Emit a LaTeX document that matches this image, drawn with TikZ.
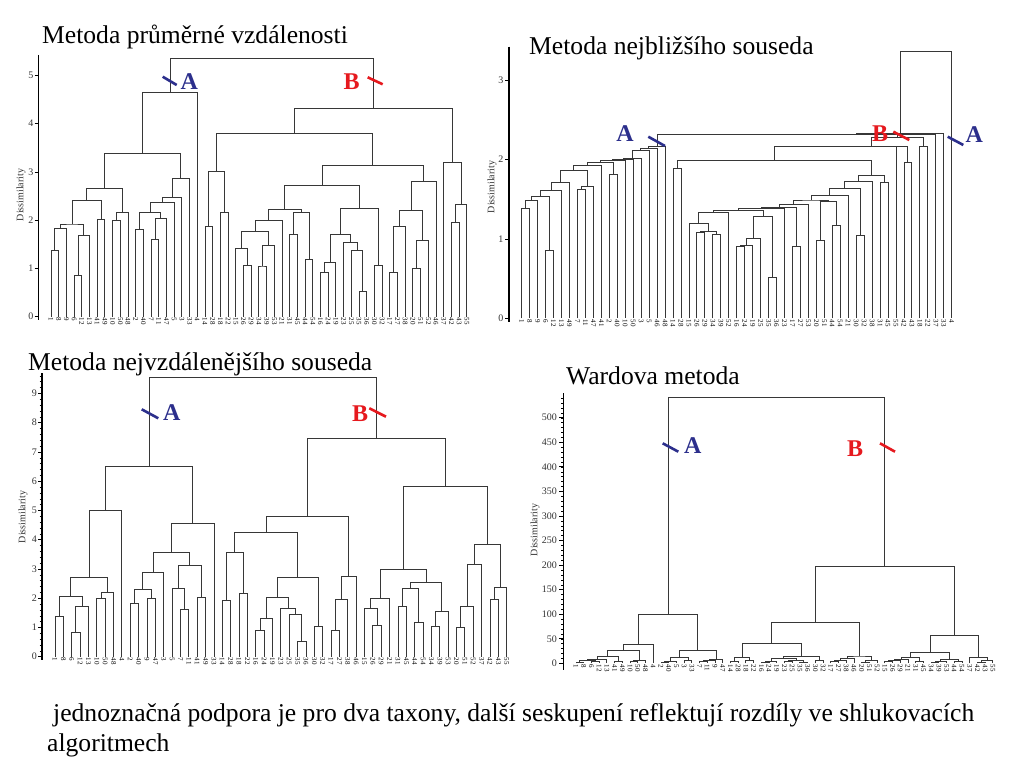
\documentclass[tikz,border=0pt]{standalone}
\usepackage{fontspec}
\setmainfont{Liberation Serif}
\usetikzlibrary{calc}
\definecolor{colA}{RGB}{44,47,140}
\definecolor{colB}{RGB}{230,25,30}
\definecolor{dcol}{RGB}{55,55,55}
\newcommand\mg[4]{\path ($(#2)!0.5!(#3)$) coordinate (mgtmp); \draw[dl] (#2) |- (mgtmp |- 0,#4) coordinate (#1) -| (#3);}
\tikzset{
  dl/.style={draw=dcol, line width=0.85pt},
  leaf/.style={rotate=-90, anchor=west, inner sep=1pt, font=\fontsize{7}{7}\selectfont},
  axisline/.style={draw=black, line width=1.6pt},
  tk/.style={draw=black, line width=0.7pt},
  tl/.style={anchor=east, inner sep=0.5pt, font=\fontsize{10}{10}\selectfont, text=black!80},
  ylab/.style={rotate=90, font=\fontsize{10}{10}\selectfont, text=black!80},
  title/.style={anchor=base west, inner sep=0pt, font=\fontsize{25.6}{30}\selectfont},
  mkA/.style={draw=colA, line width=2.6pt},
  mkB/.style={draw=colB, line width=2.6pt},
  labA/.style={text=colA, font=\fontsize{24}{24}\selectfont\bfseries, inner sep=0pt},
  labB/.style={text=colB, font=\fontsize{24}{24}\selectfont\bfseries, inner sep=0pt},
}
\begin{document}
\begin{tikzpicture}[x=1pt, y=-1pt]
\useasboundingbox (0,0) rectangle (1024,768);
\fill[white] (0,0) rectangle (1024,768);

% ---------------- titles
\node[title] (t1) at (42,44) {Metoda průměrné vzdálenosti};
\node[title] (t2) at (529,55) {Metoda nejbližšího souseda};
\node[title] (t3) at (28,370) {Metoda nejvzdálenějšího souseda};
\node[title] (t4) at (566,384) {Wardova metoda};
\node[title] (t5) at (53,721) {jednoznačná podpora je pro dva taxony, další seskupení reflektují rozdíly ve shlukovacích};
\node[title] (t6) at (47,751) {algoritmech};

% ---------------- axes
% D1
\draw[axisline] (38.3,55) -- (38.3,320);
\foreach \k in {0,...,5}{\draw[tk] (34.5,{316.7-48.28*\k}) -- (38.3,{316.7-48.28*\k}); \node[tl] (ta\k) at (34,{316.7-48.28*\k}) {\k};}
\node[ylab] (ya) at (21,195) {Dissimilarity};
% D2
\draw[axisline] (509,46.7) -- (509,321.7);
\foreach \k in {0,...,3}{\draw[tk] (505,{318.3-79.4*\k}) -- (509,{318.3-79.4*\k}); \node[tl] (tb\k) at (504,{318.3-79.4*\k}) {\k};}
\node[ylab] (yb) at (492,187) {Dissimilarity};
% D3
\draw[axisline] (41.7,373) -- (41.7,660);
\foreach \k in {0,...,9}{\draw[tk] (38,{656.7-29.26*\k}) -- (41.7,{656.7-29.26*\k}); \node[tl] (tc\k) at (37.5,{656.7-29.26*\k}) {\k};}
\foreach \k in {1,...,48}{\draw[tk, line width=0.4pt] (39.7,{656.7-29.26*\k/5}) -- (41.7,{656.7-29.26*\k/5});}
\node[ylab] (yc) at (23,517) {Dissimilarity};
% D4
\draw[axisline] (563.3,393.3) -- (563.3,670);
\foreach \k in {0,50,...,500}{\draw[tk] (559,{663.3-0.4912*\k}) -- (563.3,{663.3-0.4912*\k}); \node[tl] (td\k) at (557.5,{663.3-0.4912*\k}) {\k};}
\foreach \k in {10,20,...,540}{\draw[tk, line width=0.4pt] (561.3,{663.3-0.4912*\k}) -- (563.3,{663.3-0.4912*\k});}
\node[ylab] (yd) at (535,530) {Dissimilarity};

% ================= D1: average
\begin{scope}[shift={(51,316.7)}, x=7.7pt, y=48.28pt]
\foreach \lab [count=\i] in {1,8,9,6,12,13,41,49,10,50,48,2,40,7,11,47,5,3,33,4,14,28,18,22,15,26,29,34,39,53,21,31,45,44,54,16,24,19,23,25,35,36,30,32,17,27,38,20,51,52,46,37,42,43,55}{\coordinate (P\i) at ({\i-1},0); \node[leaf] (pl\i) at ({\i-1},0) {\lab};}
\mg{Pa}{P1}{P2}{1.38}
\mg{Pb}{Pa}{P3}{1.83}
\mg{Pc}{P4}{P5}{0.85}
\mg{Pd}{Pc}{P6}{1.68}
\mg{Pe}{Pb}{Pd}{1.92}
\mg{Pf}{P7}{P8}{2.02}
\mg{Pg}{Pe}{Pf}{2.40}
\mg{Ph}{P9}{P10}{1.99}
\mg{Pi}{Ph}{P11}{2.17}
\mg{Pj}{Pg}{Pi}{2.66}
\mg{Pk}{P12}{P13}{1.81}
\mg{Pl}{P14}{P15}{1.61}
\mg{Pm}{Pl}{P16}{2.03}
\mg{Pn}{Pk}{Pm}{2.17}
\mg{Po}{Pn}{P17}{2.37}
\mg{Pp}{Po}{P18}{2.47}
\mg{Pq}{Pp}{P19}{2.87}
\mg{Pr}{Pj}{Pq}{3.38}
\mg{Ps}{Pr}{P20}{4.64}
\mg{Qa}{P21}{P22}{1.88}
\mg{Qb}{P23}{P24}{2.15}
\mg{Qc}{Qa}{Qb}{3.00}
\mg{Qd}{P26}{P27}{1.06}
\mg{Qe}{P25}{Qd}{1.41}
\mg{Qf}{P28}{P29}{1.05}
\mg{Qg}{Qf}{P30}{1.47}
\mg{Qh}{Qe}{Qg}{1.76}
\mg{Qi}{Qh}{P31}{2.00}
\mg{Qj}{P32}{P33}{1.71}
\mg{Qk}{P34}{P35}{1.19}
\mg{Ql}{Qj}{Qk}{2.15}
\mg{Qm}{Qi}{Ql}{2.22}
\mg{Qn}{P36}{P37}{0.92}
\mg{Qo}{Qn}{P38}{1.13}
\mg{Qp}{P41}{P42}{0.53}
\mg{Qq}{P40}{Qp}{1.38}
\mg{Qr}{P39}{Qq}{1.53}
\mg{Qs}{Qo}{Qr}{1.71}
\mg{Qt}{P43}{P44}{1.07}
\mg{Qu}{Qs}{Qt}{2.24}
\mg{Qv}{Qm}{Qu}{2.71}
\mg{Qw}{P45}{P46}{0.91}
\mg{Qx}{Qw}{P47}{1.88}
\mg{Qy}{P48}{P49}{1.00}
\mg{Qz}{Qy}{P50}{1.58}
\mg{Ra}{Qx}{Qz}{2.20}
\mg{Rb}{Ra}{P51}{2.80}
\mg{Rc}{Qv}{Rb}{3.14}
\mg{Rd}{Qc}{Rc}{3.80}
\mg{Re}{P53}{P54}{1.96}
\mg{Rf}{Re}{P55}{2.32}
\mg{Rg}{P52}{Rf}{3.20}
\mg{Rh}{Rd}{Rg}{4.32}
\mg{Ri}{Ps}{Rh}{5.35}
\end{scope}

% ================= D2: nearest neighbour
\begin{scope}[shift={(521.7,318.3)}, x=7.963pt, y=79.4pt]
\foreach \lab [count=\i] in {1,8,9,6,12,13,49,7,11,47,41,2,40,10,50,3,5,46,48,14,28,15,26,29,34,39,52,16,24,19,25,35,36,23,17,27,53,20,51,44,54,21,30,32,38,31,45,55,42,43,18,22,37,33,4}{\coordinate (N\i) at ({\i-1},0); \node[leaf] (nl\i) at ({\i-1},0) {\lab};}
\mg{Na}{N1}{N2}{1.38}
\mg{Nb}{Na}{N3}{1.48}
\mg{Nc}{N4}{N5}{0.85}
\mg{Nd}{Nb}{Nc}{1.54}
\mg{Ne}{Nd}{N6}{1.61}
\mg{Nf}{Ne}{N7}{1.71}
\mg{Ng}{N8}{N9}{1.62}
\mg{Nh}{Ng}{N10}{1.66}
\mg{Ni}{Nf}{Nh}{1.86}
\mg{Nj}{Ni}{N11}{1.92}
\mg{Nk}{N12}{N13}{1.81}
\mg{Nl}{Nj}{Nk}{1.96}
\mg{Nm}{Nl}{N14}{1.99}
\mg{Nn}{Nm}{N15}{2.00}
\mg{No}{Nn}{N16}{2.01}
\mg{Np}{No}{N17}{2.11}
\mg{Nq}{Np}{N18}{2.14}
\mg{Nr}{Nq}{N19}{2.16}
\mg{Ma}{N20}{N21}{1.89}
\mg{Mb}{N23}{N24}{1.08}
\mg{Mc}{N25}{N26}{1.06}
\mg{Md}{Mb}{Mc}{1.09}
\mg{Me}{N22}{Md}{1.20}
\mg{Mf}{Me}{N27}{1.33}
\mg{Mg}{N28}{N29}{0.91}
\mg{Mh}{Mg}{N30}{0.92}
\mg{Mi}{Mh}{N31}{1.00}
\mg{Mj}{N32}{N33}{0.52}
\mg{Mk}{Mi}{Mj}{1.28}
\mg{Ml}{Mf}{Mk}{1.36}
\mg{Mm}{Ml}{N34}{1.38}
\mg{Mn}{N35}{N36}{0.90}
\mg{Mo}{Mm}{Mn}{1.40}
\mg{Mp}{Mo}{N37}{1.43}
\mg{Mq}{N38}{N39}{0.98}
\mg{Mr}{N40}{N41}{1.17}
\mg{Ms}{Mq}{Mr}{1.47}
\mg{Mt}{Mp}{Ms}{1.49}
\mg{Mu}{Mt}{N42}{1.55}
\mg{Mv}{N43}{N44}{1.05}
\mg{Mw}{Mu}{Mv}{1.64}
\mg{Mx}{Mw}{N45}{1.73}
\mg{My}{N46}{N47}{1.71}
\mg{Mz}{Mx}{My}{1.80}
\mg{La}{Ma}{Mz}{1.985}
\mg{Lb}{La}{N48}{2.16}
\mg{Lc}{N49}{N50}{1.96}
\mg{Ld}{Lb}{Lc}{2.17}
\mg{Le}{N51}{N52}{2.16}
\mg{Lf}{Ld}{Le}{2.28}
\mg{Lg}{Nr}{Lf}{2.31}
\mg{Lh}{Lg}{N53}{2.32}
\mg{Li}{Lh}{N54}{2.33}
\mg{Lj}{Li}{N55}{3.36}
\end{scope}

% ================= D3: farthest neighbour
\begin{scope}[shift={(55,656.7)}, x=8.365pt, y=29.26pt]
\foreach \lab [count=\i] in {1,8,6,12,13,10,50,48,4,2,40,9,47,3,5,7,11,41,49,33,14,28,18,22,16,24,19,23,25,35,36,30,32,17,27,38,46,15,26,29,21,31,45,44,54,34,39,53,20,51,52,37,42,43,55}{\coordinate (F\i) at ({\i-1},0); \node[leaf] (fl\i) at ({\i-1},0) {\lab};}
\mg{Fa}{F1}{F2}{1.37}
\mg{Fb}{F3}{F4}{0.83}
\mg{Fc}{Fb}{F5}{1.71}
\mg{Fd}{Fa}{Fc}{2.07}
\mg{Fe}{F6}{F7}{1.98}
\mg{Ff}{Fe}{F8}{2.20}
\mg{Fg}{Fd}{Ff}{2.71}
\mg{Fh}{Fg}{F9}{4.99}
\mg{Fi}{F10}{F11}{1.82}
\mg{Fj}{F12}{F13}{1.98}
\mg{Fk}{Fi}{Fj}{2.31}
\mg{Fl}{Fk}{F14}{2.88}
\mg{Fm}{F16}{F17}{1.62}
\mg{Fn}{F15}{Fm}{2.34}
\mg{Fo}{F18}{F19}{2.02}
\mg{Fp}{Fn}{Fo}{3.13}
\mg{Fq}{Fl}{Fp}{3.57}
\mg{Fr}{Fq}{F20}{4.55}
\mg{Fs}{Fh}{Fr}{6.52}
\mg{Ga}{F21}{F22}{1.91}
\mg{Gb}{F23}{F24}{2.17}
\mg{Gc}{Ga}{Gb}{3.57}
\mg{Gd}{F25}{F26}{0.90}
\mg{Ge}{Gd}{F27}{1.31}
\mg{Gf}{F30}{F31}{0.51}
\mg{Gg}{F29}{Gf}{1.46}
\mg{Gh}{F28}{Gg}{1.64}
\mg{Gi}{Ge}{Gh}{2.02}
\mg{Gj}{F32}{F33}{1.05}
\mg{Gk}{Gi}{Gj}{2.70}
\mg{Gl}{Gc}{Gk}{4.25}
\mg{Gm}{F34}{F35}{0.90}
\mg{Gn}{Gm}{F36}{1.96}
\mg{Go}{Gn}{F37}{2.74}
\mg{Gp}{Gl}{Go}{4.78}
\mg{Gq}{F39}{F40}{1.07}
\mg{Gr}{F38}{Gq}{1.64}
\mg{Gs}{Gr}{F41}{1.98}
\mg{Gt}{F42}{F43}{1.71}
\mg{Gu}{F44}{F45}{1.16}
\mg{Gv}{Gt}{Gu}{2.34}
\mg{Gw}{F46}{F47}{1.05}
\mg{Gx}{Gw}{F48}{1.55}
\mg{Gy}{Gv}{Gx}{2.54}
\mg{Gz}{Gs}{Gy}{2.99}
\mg{Ha}{F49}{F50}{0.99}
\mg{Hb}{Ha}{F51}{1.71}
\mg{Hc}{Hb}{F52}{3.16}
\mg{Hd}{F53}{F54}{1.96}
\mg{He}{Hd}{F55}{2.37}
\mg{Hf}{Hc}{He}{3.84}
\mg{Hg}{Gz}{Hf}{5.81}
\mg{Hh}{Gp}{Hg}{7.46}
\mg{Hi}{Fs}{Hh}{9.55}
\end{scope}

% ================= D4: Ward
\begin{scope}[shift={(576,663.3)}, x=7.72pt, y=0.4912pt]
\foreach \lab [count=\i] in {1,8,6,12,13,41,49,10,50,48,4,2,40,5,3,33,7,11,9,47,14,28,18,22,16,24,19,23,25,35,36,30,32,17,27,38,46,20,51,52,15,26,29,21,31,45,34,39,53,44,54,37,42,43,55}{\coordinate (W\i) at ({\i-1},0); \node[leaf] (wl\i) at ({\i-1},0) {\lab};}
\mg{Wa}{W1}{W2}{2.5}
\mg{Wb}{W3}{W4}{4}
\mg{Wc}{Wa}{Wb}{6}
\mg{Wd}{Wc}{W5}{8}
\mg{We}{W6}{W7}{4}
\mg{Wf}{Wd}{We}{14.2}
\mg{Wg}{W8}{W9}{3}
\mg{Wh}{Wg}{W10}{5}
\mg{Wi}{Wf}{Wh}{25.7}
\mg{Wj}{Wi}{W11}{38.6}
\mg{Wk}{W12}{W13}{2}
\mg{Wl}{Wk}{W14}{4}
\mg{Wm}{W15}{W16}{5}
\mg{Wn}{Wl}{Wm}{11.5}
\mg{Wo}{W17}{W18}{3}
\mg{Wp}{Wo}{W19}{5}
\mg{Wq}{Wp}{W20}{7}
\mg{Wr}{Wn}{Wq}{25.7}
\mg{Ws}{Wj}{Wr}{99.7}
\mg{Xa}{W21}{W22}{3}
\mg{Xb}{W23}{W24}{5}
\mg{Xc}{Xa}{Xb}{12}
\mg{Xd}{W25}{W26}{2}
\mg{Xe}{Xd}{W27}{4}
\mg{Xf}{W28}{W29}{3}
\mg{Xg}{W30}{W31}{2}
\mg{Xh}{Xf}{Xg}{6}
\mg{Xi}{Xe}{Xh}{10}
\mg{Xj}{W32}{W33}{5}
\mg{Xk}{Xi}{Xj}{15}
\mg{Xl}{Xc}{Xk}{40.7}
\mg{Xm}{W34}{W35}{3}
\mg{Xn}{Xm}{W36}{6}
\mg{Xo}{Xn}{W37}{9}
\mg{Xp}{W38}{W39}{2}
\mg{Xq}{Xp}{W40}{5}
\mg{Xr}{Xo}{Xq}{14.9}
\mg{Xs}{Xl}{Xr}{83.4}
\mg{Xt}{W41}{W42}{3}
\mg{Xu}{Xt}{W43}{5}
\mg{Xv}{Xu}{W44}{8}
\mg{Xw}{W45}{W46}{3}
\mg{Xx}{Xv}{Xw}{12}
\mg{Xy}{W47}{W48}{2}
\mg{Xz}{Xy}{W49}{4}
\mg{Ya}{W50}{W51}{3}
\mg{Yb}{Xz}{Ya}{8}
\mg{Yc}{Xx}{Yb}{21.6}
\mg{Yd}{W53}{W54}{2}
\mg{Ye}{Yd}{W55}{5}
\mg{Yf}{W52}{Ye}{12.2}
\mg{Yg}{Yc}{Yf}{57}
\mg{Yh}{Xs}{Yg}{198}
\mg{Yi}{Ws}{Yh}{541.5}
\end{scope}

% ---------------- A / B marks
\draw[mkA] (162.7,76.7) -- (176.7,85);
\node[labA] (a1) at (189.3,82) {A};
\draw[mkB] (367.7,77.3) -- (382.7,84.3);
\node[labB] (b1) at (351.7,82) {B};

\draw[mkA] (648.3,136.7) -- (665,146);
\node[labA] (a2) at (625,133.3) {A};
\draw[mkA] (947.7,136.7) -- (963.3,145);
\node[labA] (a3) at (974.3,134.3) {A};
\draw[mkB] (893.3,131.7) -- (909.3,140);
\node[labB] (b2) at (880,133.3) {B};

\draw[mkA] (141.7,409.3) -- (158.3,418.3);
\node[labA] (a4) at (171.7,412.7) {A};
\draw[mkB] (369.3,408.3) -- (386,416.7);
\node[labB] (b3) at (360,413.3) {B};

\draw[mkA] (662.7,443.3) -- (678.3,451.7);
\node[labA] (a5) at (692.7,446) {A};
\draw[mkB] (880,443.3) -- (895,451.7);
\node[labB] (b4) at (855,448.3) {B};
\end{tikzpicture}
\end{document}
